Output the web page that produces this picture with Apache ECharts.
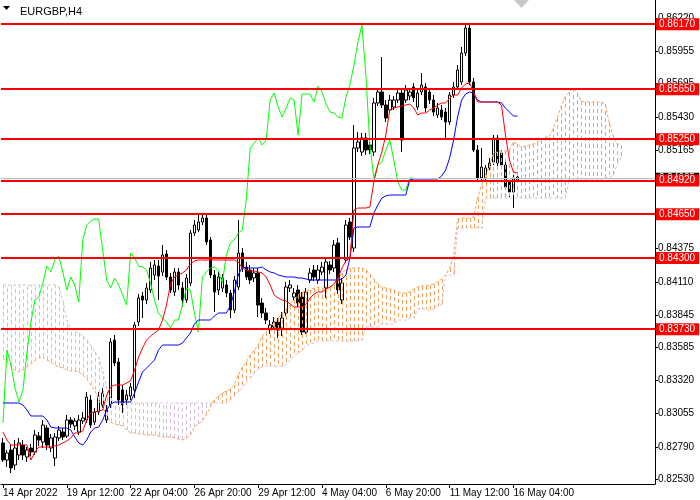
<!DOCTYPE html>
<html>
<head>
<meta charset="utf-8">
<script src="https://cdn.jsdelivr.net/npm/echarts/dist/echarts.min.js"></script>
<style>
html, body { margin: 0; padding: 0; background: #fff; }
#main { width: 700px; height: 500px; }
</style>
</head>
<body>
<div id="main"></div>
<script>
// EURGBP H4, bars 14 Apr 20:00 .. 16 May 08:00 -- [open, close, low, high]
var candles = [
  [0.82820,0.82684,0.82668,0.82860],[0.82684,0.82740,0.82628,0.82764],[0.82764,0.82620,0.82580,0.82804],[0.82644,0.82780,0.82604,0.82844],
  [0.82724,0.82820,0.82684,0.82860],[0.82804,0.82724,0.82684,0.82844],[0.82708,0.82764,0.82668,0.82788],[0.82780,0.82748,0.82716,0.82812],
  [0.82748,0.82884,0.82724,0.82924],[0.82876,0.82844,0.82796,0.82908],[0.82828,0.82964,0.82780,0.83004],[0.82940,0.82804,0.82764,0.82964],
  [0.82780,0.82860,0.82748,0.82892],[0.82700,0.82868,0.82636,0.82900],[0.82860,0.82924,0.82836,0.82956],[0.82908,0.82868,0.82844,0.82940],
  [0.82876,0.83004,0.82860,0.83044],[0.83004,0.82972,0.82940,0.83028],[0.82956,0.82996,0.82924,0.83020],[0.82908,0.83004,0.82884,0.83044],
  [0.82996,0.83020,0.82972,0.83068],[0.83004,0.83188,0.82980,0.83228],[0.83164,0.82964,0.82940,0.83204],[0.82988,0.83068,0.82964,0.83100],
  [0.83068,0.83196,0.83044,0.83228],[0.83124,0.83220,0.83100,0.83260],[0.83004,0.83084,0.82980,0.83124],[0.83124,0.83628,0.83100,0.83660],
  [0.83644,0.83460,0.83436,0.83684],[0.83468,0.83164,0.83124,0.83500],[0.83244,0.83124,0.83060,0.83284],[0.83164,0.83204,0.83124,0.83244],
  [0.83196,0.83268,0.83164,0.83300],[0.83244,0.83764,0.83180,0.83788],[0.83788,0.83980,0.83756,0.84012],[0.83996,0.83964,0.83820,0.84028],
  [0.83964,0.84060,0.83932,0.84100],[0.84044,0.84220,0.84020,0.84268],[0.84164,0.84244,0.84124,0.84284],[0.84236,0.84156,0.83964,0.84284],
  [0.84188,0.84324,0.84156,0.84404],[0.84332,0.84148,0.84124,0.84364],[0.84148,0.84044,0.84020,0.84180],[0.84028,0.84188,0.83996,0.84220],
  [0.84188,0.84084,0.84044,0.84220],[0.84060,0.83964,0.83908,0.84108],[0.83964,0.84140,0.83940,0.84172],[0.84100,0.84500,0.84076,0.84524],
  [0.84500,0.84564,0.84476,0.84604],[0.84524,0.84588,0.84508,0.84660],[0.84588,0.84620,0.84564,0.84652],[0.84620,0.84428,0.84404,0.84644],
  [0.84444,0.84164,0.84140,0.84468],[0.84164,0.84028,0.83868,0.84204],[0.84044,0.84148,0.84004,0.84188],[0.84060,0.84140,0.84028,0.84172],
  [0.84084,0.84020,0.83988,0.84124],[0.84020,0.83884,0.83820,0.84044],[0.83884,0.84124,0.83860,0.84156],[0.84068,0.84340,0.84044,0.84604],
  [0.84340,0.84228,0.84188,0.84380],[0.84228,0.84148,0.84124,0.84268],[0.84204,0.84124,0.84092,0.84244],[0.84140,0.84180,0.84108,0.84220],
  [0.84180,0.83924,0.83828,0.84220],[0.83940,0.83860,0.83820,0.83980],[0.83860,0.83804,0.83772,0.83900],[0.83724,0.83764,0.83692,0.83804],
  [0.83748,0.83788,0.83724,0.83828],[0.83788,0.83724,0.83660,0.83820],[0.83740,0.83820,0.83676,0.83868],[0.83860,0.84068,0.83836,0.84108],
  [0.84060,0.84084,0.84028,0.84124],[0.83988,0.84020,0.83964,0.84060],[0.84044,0.83940,0.83908,0.84084],[0.83988,0.83708,0.83684,0.84028],
  [0.83708,0.84028,0.83692,0.84060],[0.84124,0.84180,0.84100,0.84220],[0.84204,0.84148,0.84116,0.84244],[0.84124,0.84204,0.84092,0.84244],
  [0.84188,0.84228,0.84164,0.84268],[0.84060,0.84268,0.83980,0.84300],[0.84244,0.84204,0.84172,0.84276],[0.84220,0.84404,0.84188,0.84444],
  [0.84420,0.84044,0.84012,0.84460],[0.83964,0.84100,0.83932,0.84140],[0.84284,0.84564,0.84260,0.84604],[0.84588,0.84468,0.84444,0.84620],
  [0.84380,0.85180,0.84348,0.85364],[0.85180,0.85228,0.85148,0.85308],[0.85148,0.85260,0.85116,0.85300],[0.85260,0.85164,0.85124,0.85300],
  [0.85204,0.85164,0.85132,0.85244],[0.85148,0.85540,0.85116,0.85580],[0.85540,0.85628,0.85516,0.85660],[0.85628,0.85524,0.85500,0.85908],
  [0.85524,0.85420,0.85388,0.85564],[0.85484,0.85564,0.85460,0.85604],[0.85508,0.85564,0.85484,0.85596],[0.85564,0.85620,0.85540,0.85660],
  [0.85620,0.85244,0.85148,0.85660],[0.85564,0.85644,0.85540,0.85684],[0.85596,0.85628,0.85564,0.85660],[0.85668,0.85580,0.85548,0.85700],
  [0.85508,0.85620,0.85484,0.85660],[0.85628,0.85684,0.85604,0.85780],[0.85668,0.85500,0.85468,0.85700],[0.85628,0.85564,0.85532,0.85660],
  [0.85564,0.85468,0.85436,0.85604],[0.85444,0.85500,0.85420,0.85540],[0.85484,0.85428,0.85404,0.85524],[0.85468,0.85388,0.85260,0.85500],
  [0.85388,0.85604,0.85364,0.85628],[0.85604,0.85668,0.85580,0.85708],[0.85668,0.85804,0.85644,0.85844],[0.85708,0.85940,0.85684,0.85988],
  [0.85940,0.86140,0.85916,0.86164],[0.86140,0.85708,0.85684,0.86180],[0.85708,0.85164,0.85148,0.85740],[0.85164,0.84940,0.84908,0.85204],
  [0.84940,0.85028,0.84924,0.85180],[0.84940,0.85020,0.84924,0.85044],[0.85020,0.85060,0.85004,0.85100],[0.85068,0.85260,0.85044,0.85284],
  [0.85260,0.85060,0.85036,0.85284],[0.85140,0.85044,0.85020,0.85164],[0.85044,0.84868,0.84844,0.85068],[0.84908,0.84828,0.84788,0.84940],
  [0.84828,0.84940,0.84700,0.84964],[0.84924,0.84948,0.84900,0.84980]
];

// Ichimoku lines
var tenkan = [
  0.82908,0.82844,0.82804,0.82804,0.82804,0.82804,0.82804,0.82684,0.82748,0.82788,0.82788,0.82788,0.82788,0.82796,0.82804,0.82820,
  0.82836,0.82860,0.82900,0.82900,0.82916,0.83004,0.83060,0.83068,0.83076,0.83084,0.83204,0.83268,0.83284,0.83284,0.83284,0.83300,
  0.83316,0.83404,0.83508,0.83580,0.83644,0.83676,0.83700,0.83724,0.83804,0.83924,0.84092,0.84148,0.84164,0.84180,0.84204,0.84252,
  0.84276,0.84284,0.84284,0.84284,0.84284,0.84284,0.84284,0.84284,0.84284,0.84284,0.84284,0.84268,0.84220,0.84204,0.84196,0.84196,
  0.84188,0.84180,0.84148,0.84084,0.84004,0.83980,0.83964,0.83956,0.83932,0.83908,0.83908,0.83908,0.83932,0.83980,0.84012,0.84028,
  0.84028,0.84052,0.84068,0.84092,0.84140,0.84220,0.84276,0.84300,0.84684,0.84700,0.84700,0.84700,0.84708,0.84908,0.85044,0.85148,
  0.85284,0.85484,0.85500,0.85508,0.85516,0.85524,0.85532,0.85500,0.85444,0.85460,0.85460,0.85484,0.85500,0.85524,0.85540,0.85540,
  0.85580,0.85604,0.85604,0.85660,0.85692,0.85700,0.85628,0.85548,0.85548,0.85548,0.85548,0.85548,0.85548,0.85524,0.85284,0.85084,
  0.84988,0.84980
];
var kijun = [
  0.83140,0.83140,0.83140,0.83140,0.83140,0.83124,0.83084,0.83036,0.83036,0.83036,0.83036,0.83004,0.82948,0.82940,0.82940,0.82940,
  0.82940,0.82924,0.82868,0.82820,0.82804,0.82844,0.82908,0.82940,0.82948,0.83004,0.83084,0.83132,0.83148,0.83148,0.83148,0.83148,
  0.83148,0.83220,0.83308,0.83388,0.83420,0.83452,0.83484,0.83564,0.83604,0.83604,0.83604,0.83604,0.83604,0.83620,0.83660,0.83700,
  0.83772,0.83804,0.83804,0.83804,0.83804,0.83836,0.83860,0.83860,0.83860,0.83916,0.84028,0.84164,0.84228,0.84220,0.84220,0.84220,
  0.84220,0.84228,0.84204,0.84188,0.84180,0.84164,0.84156,0.84148,0.84148,0.84148,0.84140,0.84140,0.84132,0.84124,0.84124,0.84124,
  0.84124,0.84124,0.84124,0.84124,0.84124,0.84132,0.84164,0.84300,0.84540,0.84548,0.84548,0.84548,0.84548,0.84660,0.84724,0.84780,
  0.84796,0.84804,0.84804,0.84804,0.84804,0.84804,0.84924,0.84932,0.84932,0.84932,0.84932,0.84932,0.84932,0.84932,0.84956,0.85004,
  0.85100,0.85244,0.85428,0.85564,0.85612,0.85628,0.85620,0.85564,0.85548,0.85548,0.85548,0.85548,0.85548,0.85540,0.85500,0.85468,
  0.85436,0.85436
];
var chikou = [
  0.82980,0.83564,0.83444,0.83260,0.83148,0.83244,0.83540,0.83788,0.83964,0.83988,0.84100,0.84236,0.84188,0.84284,0.84316,0.84188,
  0.84044,0.84148,0.84084,0.83948,0.84444,0.84564,0.84596,0.84612,0.84612,0.84364,0.84124,0.84060,0.84140,0.84084,0.84004,0.83924,
  0.84340,0.84300,0.84236,0.84228,0.84204,0.84100,0.83964,0.83860,0.83820,0.83788,0.83740,0.83804,0.83804,0.83924,0.84060,0.84044,
  0.83860,0.83708,0.84148,0.84188,0.84220,0.84228,0.84204,0.84100,0.84324,0.84420,0.84444,0.84500,0.84524,0.84764,0.85180,0.85220,
  0.85260,0.85204,0.85244,0.85564,0.85620,0.85508,0.85428,0.85500,0.85580,0.85564,0.85284,0.85612,0.85612,0.85612,0.85548,0.85676,
  0.85628,0.85532,0.85468,0.85460,0.85428,0.85420,0.85588,0.85684,0.85844,0.86028,0.86164,0.85764,0.85204,0.84940,0.85044,0.85068,
  0.85164,0.85244,0.85084,0.84908,0.84844,0.84844,0.84940,0.84940
];
var spanA = [
  0.83500,0.83468,0.83436,0.83404,0.83388,0.83404,0.83428,0.83452,0.83476,0.83500,0.83508,0.83484,0.83468,0.83444,0.83428,0.83420,
  0.83404,0.83396,0.83396,0.83388,0.83364,0.83332,0.83284,0.83244,0.83164,0.83100,0.83036,0.82988,0.82972,0.82964,0.82956,0.82924,
  0.82900,0.82900,0.82892,0.82892,0.82884,0.82884,0.82884,0.82876,0.82868,0.82868,0.82868,0.82860,0.82852,0.82844,0.82860,0.82884,
  0.82948,0.82972,0.82996,0.83044,0.83108,0.83164,0.83196,0.83220,0.83236,0.83252,0.83284,0.83364,0.83428,0.83468,0.83524,0.83564,
  0.83604,0.83676,0.83708,0.83748,0.83780,0.83820,0.83860,0.83892,0.83924,0.83964,0.84004,0.84028,0.84036,0.84044,0.84060,0.84068,
  0.84060,0.84052,0.84068,0.84084,0.84124,0.84180,0.84212,0.84220,0.84220,0.84220,0.84220,0.84204,0.84172,0.84132,0.84092,0.84068,
  0.84060,0.84052,0.84044,0.84028,0.84020,0.84020,0.84028,0.84052,0.84068,0.84076,0.84076,0.84084,0.84092,0.84108,0.84132,0.84164,
  0.84220,0.84316,0.84612,0.84620,0.84620,0.84620,0.84628,0.84780,0.84884,0.84964,0.85036,0.85140,0.85148,0.85156,0.85156,0.85164,
  0.85228,0.85212,0.85188,0.85196,0.85204,0.85212,0.85228,0.85244,0.85268,0.85268,0.85340,0.85420,0.85516,0.85588,0.85628,0.85660,
  0.85620,0.85556,0.85548,0.85548,0.85548,0.85548,0.85548,0.85532,0.85388,0.85276,0.85212,0.85204
];
var spanB = [
  0.84084,0.84084,0.84084,0.84084,0.84084,0.84084,0.84084,0.84084,0.84084,0.84084,0.84084,0.84084,0.84084,0.84084,0.84068,0.83964,
  0.83804,0.83740,0.83716,0.83700,0.83676,0.83644,0.83604,0.83548,0.83508,0.83388,0.83260,0.83180,0.83140,0.83140,0.83140,0.83140,
  0.83140,0.83140,0.83140,0.83140,0.83140,0.83140,0.83140,0.83140,0.83140,0.83140,0.83140,0.83140,0.83140,0.83140,0.83140,0.83140,
  0.83140,0.83140,0.83140,0.83140,0.83140,0.83140,0.83140,0.83140,0.83140,0.83164,0.83196,0.83228,0.83260,0.83308,0.83340,0.83380,
  0.83412,0.83428,0.83436,0.83436,0.83436,0.83436,0.83436,0.83444,0.83484,0.83516,0.83540,0.83564,0.83596,0.83612,0.83620,0.83636,
  0.83636,0.83636,0.83636,0.83636,0.83636,0.83636,0.83636,0.83636,0.83636,0.83636,0.83644,0.83748,0.83748,0.83748,0.83748,0.83772,
  0.83772,0.83772,0.83772,0.83804,0.83804,0.83804,0.83820,0.83820,0.83892,0.83892,0.83892,0.83876,0.83892,0.83916,0.83924,0.84164,
  0.84164,0.84164,0.84540,0.84540,0.84540,0.84540,0.84540,0.84540,0.84540,0.84780,0.84780,0.84780,0.84780,0.84780,0.84780,0.84780,
  0.84780,0.84780,0.84780,0.84780,0.84780,0.84780,0.84780,0.84780,0.84780,0.84780,0.84780,0.84780,0.84780,0.84780,0.84916,0.84916,
  0.84916,0.84916,0.84916,0.84932,0.84932,0.84932,0.84932,0.84940,0.84940,0.84964,0.85044,0.85108
];

var levels = [0.86170, 0.85650, 0.85250, 0.84920, 0.84650, 0.84300, 0.83730];
var bidPrice = 0.84935;
var priceTicks = [0.86220, 0.85955, 0.85695, 0.85430, 0.85165, 0.84900, 0.84640, 0.84375,
                  0.84110, 0.83845, 0.83585, 0.83320, 0.83055, 0.82790, 0.82530];
var timeLabels = ['14 Apr 2022', '19 Apr 12:00', '22 Apr 04:00', '26 Apr 20:00', '29 Apr 12:00',
                  '4 May 04:00', '6 May 20:00', '11 May 12:00', '16 May 04:00'];

var NBARS = 164; // visible slots incl. cloud shift
var cats = [];
for (var i = 0; i < NBARS; i++) cats.push(i);

var cloud = spanA.map(function (a, i) { return [i, a, spanB[i]]; });

function showTime(idx) { return idx % 16 === 0 && idx / 16 < timeLabels.length; }

var dom = document.getElementById('main');
var myChart = echarts.init(dom);
var font = 'Liberation Sans, Arial, sans-serif';

function priceLabel(bg) {
    return {
        show: true, position: 'end', distance: 1,
        formatter: function (p) { return Number(p.value).toFixed(5); },
        backgroundColor: bg, color: '#fff', padding: [1, 4, 1, 3],
        fontFamily: font, fontSize: 10
    };
}

var option = {
    animation: false,
    backgroundColor: '#fff',
    title: {
        text: 'EURGBP,H4',
        left: 15, top: 1,
        textStyle: { fontFamily: font, fontSize: 11, fontWeight: 'normal', color: '#000' }
    },
    graphic: [
        { type: 'polygon', shape: { points: [[3, 6], [10, 6], [6.5, 10]] }, style: { fill: '#000' } },
        { type: 'polygon', shape: { points: [[514, 0], [529, 0], [521.5, 8]] }, style: { fill: '#c8c8c8' } }
    ],
    grid: { left: -1, right: 45, top: 0, bottom: 16 },
    xAxis: {
        type: 'category',
        data: cats,
        boundaryGap: true,
        axisLine: { lineStyle: { color: '#000', width: 1 } },
        axisTick: { show: true, interval: function (idx) { return showTime(idx); }, alignWithLabel: true, length: 4, lineStyle: { color: '#000' } },
        axisLabel: {
            interval: function (idx) { return showTime(idx); },
            formatter: function (v, idx) { return timeLabels[idx / 16] || ''; },
            align: 'left', margin: 4,
            fontFamily: font, fontSize: 10, color: '#000'
        },
        splitLine: { show: false }
    },
    yAxis: {
        type: 'value',
        position: 'right',
        min: 0.82492,
        max: 0.86364,
        axisLine: { show: true, lineStyle: { color: '#000', width: 1 } },
        axisTick: { show: true, customValues: priceTicks, length: 3, lineStyle: { color: '#000' } },
        axisLabel: {
            customValues: priceTicks,
            formatter: function (v) { return v.toFixed(5); },
            margin: 3, fontFamily: font, fontSize: 10, color: '#000'
        },
        splitLine: { show: false }
    },
    series: [
        {
            name: 'EURGBP',
            type: 'candlestick',
            data: candles,
            barWidth: 3,
            z: 1,
            itemStyle: { color: '#fff', color0: '#000', borderColor: '#000', borderColor0: '#000', borderWidth: 1 }
        },
        {
            name: 'Kumo',
            type: 'custom',
            z: 2,
            data: cloud,
            encode: { x: 0, y: [1, 2] },
            renderItem: function (params, api) {
                var x = api.value(0), a = api.value(1), b = api.value(2);
                var pa = api.coord([x, a]);
                var pb = api.coord([x, b]);
                var px = Math.round(pa[0]) + 0.5; // crisp 1px hatch
                return {
                    type: 'line',
                    shape: { x1: px, y1: pa[1], x2: px, y2: pb[1] },
                    style: { stroke: a >= b ? '#F4A460' : '#D8BFD8', lineWidth: 1, lineDash: [4, 3] }
                };
            }
        },
        {
            name: 'Senkou A', type: 'line', data: spanA, showSymbol: false, z: 3,
            lineStyle: { color: '#F4A460', width: 1, type: [3, 2] }
        },
        {
            name: 'Senkou B', type: 'line', data: spanB, showSymbol: false, z: 3,
            lineStyle: { color: '#D8BFD8', width: 1, type: [3, 2] }
        },
        {
            name: 'Chikou', type: 'line', data: chikou, showSymbol: false, z: 4,
            lineStyle: { color: '#00FF00', width: 1 }
        },
        {
            name: 'Kijun', type: 'line', data: kijun, showSymbol: false, z: 4,
            lineStyle: { color: '#0000FF', width: 1 }
        },
        {
            name: 'Tenkan', type: 'line', data: tenkan, showSymbol: false, z: 4,
            lineStyle: { color: '#FF0000', width: 1 }
        },
        {
            name: 'Levels', type: 'line', data: [], z: 5,
            markLine: {
                silent: true,
                precision: 5,
                symbol: ['none', 'none'],
                animation: false,
                data: [{
                    yAxis: bidPrice,
                    lineStyle: { color: '#c0c0c0', width: 1, type: 'solid' },
                    label: priceLabel('#000')
                }].concat(levels.map(function (v) {
                    return {
                        yAxis: v,
                        lineStyle: { color: '#FF0000', width: 2, type: 'solid' },
                        label: priceLabel('#FF0000')
                    };
                }))
            }
        }
    ]
};

myChart.setOption(option, true);
</script>
</body>
</html>
